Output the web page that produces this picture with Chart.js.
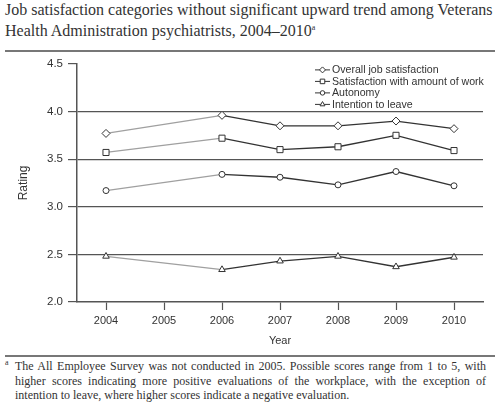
<!DOCTYPE html>
<html lang="en">
<head>
    <meta charset="UTF-8">
    <title>Job satisfaction categories, VHA psychiatrists</title>
    <script src="https://cdn.jsdelivr.net/npm/chart.js"></script>
    <style>
        body { margin: 0; width: 500px; height: 407px; background: #fff; position: relative; overflow: hidden; }
        #title { position: absolute; left: 5px; top: 1px; width: 494px; font: 16px "Liberation Serif", serif; line-height: 18px; color: #333; }
        .rule { position: absolute; left: 5px; width: 490px; height: 2px; background: #777; }
        #chart-box { position: absolute; left: 0; top: 52px; width: 500px; height: 300px; }
        #note { position: absolute; left: 15px; top: 359px; width: 471px; font: 12px "Liberation Serif", serif; line-height: 14.5px; color: #333; text-align: justify; }
        #note sup { position: absolute; left: -10px; top: -3px; font-size: 8px; }
        sup { font-size: 8px; }
    </style>
</head>
<body>
    <div id="title">Job satisfaction categories without significant upward trend among Veterans Health Administration psychiatrists, 2004&ndash;2010<sup>a</sup></div>
    <div class="rule" style="top: 50px;"></div>

    <div id="chart-box"><canvas id="ratingChart"></canvas></div>

    <div class="rule" style="top: 355px;"></div>
    <div id="note"><sup>a</sup>The All Employee Survey was not conducted in 2005. Possible scores range from 1 to 5, with higher scores indicating more positive evaluations of the workplace, with the exception of intention to leave, where higher scores indicate a negative evaluation.</div>

    <script>
        // survey years (no survey in 2005)
        const years = [2004, 2006, 2007, 2008, 2009, 2010];
        const tickYears = [2004, 2005, 2006, 2007, 2008, 2009, 2010];
        const seriesNames = ['Overall job satisfaction', 'Satisfaction with amount of work', 'Autonomy', 'Intention to leave'];
        const overall = [3.77, 3.96, 3.85, 3.85, 3.90, 3.82];
        const amountOfWork = [3.57, 3.72, 3.60, 3.63, 3.75, 3.59];
        const autonomy = [3.17, 3.34, 3.31, 3.23, 3.37, 3.22];
        const intentionToLeave = [2.48, 2.34, 2.43, 2.48, 2.37, 2.47];
        const pointStyles = ['rectRot', 'rect', 'circle', 'triangle'];
        const pointSizes = [4, 4.3, 3, 3.8];

        const ink = '#333';
        const lightInk = '#a0a0a0';
        const axisGray = '#555';
        const fontFamily = '"Liberation Sans", Arial, sans-serif';

        function makeDataset(label, values, i) {
            return {
                label: label,
                data: years.map((x, k) => ({ x: x, y: values[k] })),
                borderColor: ink,
                borderWidth: 1.3,
                pointStyle: pointStyles[i],
                pointRadius: pointSizes[i],
                pointBackgroundColor: '#fff',
                pointBorderColor: ink,
                pointBorderWidth: 1,
                segment: {
                    // the 2004 -> 2006 gap year is drawn lighter
                    borderColor: c => c.p0.parsed.x === 2004 ? lightInk : ink
                }
            };
        }

        // legend drawn inside the plot, top right
        const cornerLegend = {
            id: 'cornerLegend',
            afterDraw(chart) {
                const ctx = chart.ctx;
                const x0 = chart.chartArea.right - 168;
                ctx.save();
                ctx.font = '10.6px ' + fontFamily;
                ctx.textBaseline = 'middle';
                chart.data.datasets.forEach((ds, i) => {
                    const y = chart.chartArea.top + 6 + i * 11.5;
                    ctx.strokeStyle = ink;
                    ctx.lineWidth = 1;
                    ctx.beginPath();
                    ctx.moveTo(x0, y);
                    ctx.lineTo(x0 + 15, y);
                    ctx.stroke();
                    ctx.fillStyle = '#fff';
                    Chart.helpers.drawPoint(ctx, {
                        pointStyle: ds.pointStyle,
                        radius: ds.pointRadius * 0.75,
                        borderWidth: 1
                    }, x0 + 7.5, y);
                    ctx.fillStyle = ink;
                    ctx.fillText(ds.label, x0 + 17, y + 0.5);
                });
                ctx.restore();
            }
        };

        const ratingChart = new Chart(document.getElementById('ratingChart').getContext('2d'), {
            type: 'line',
            data: {
                datasets: [
                    makeDataset(seriesNames[0], overall, 0),
                    makeDataset(seriesNames[1], amountOfWork, 1),
                    makeDataset(seriesNames[2], autonomy, 2),
                    makeDataset(seriesNames[3], intentionToLeave, 3)
                ]
            },
            options: {
                responsive: true,
                maintainAspectRatio: false,
                animation: false,
                layout: { padding: { top: 8, right: 17, left: 0, bottom: 0 } },
                plugins: {
                    legend: { display: false },
                    tooltip: { enabled: false }
                },
                scales: {
                    x: {
                        type: 'linear',
                        min: 2003.5,
                        max: 2010.5,
                        afterBuildTicks: s => { s.ticks = tickYears.map(v => ({ value: v })); },
                        afterFit: s => { s.height = 50; },
                        ticks: {
                            color: ink,
                            padding: 4,
                            maxRotation: 0,
                            font: { family: fontFamily, size: 11 },
                            callback: v => String(v)
                        },
                        grid: { drawOnChartArea: false, drawTicks: true, tickLength: 8, tickColor: axisGray, tickWidth: 1.2 },
                        border: { display: true, color: axisGray, width: 1.5 },
                        title: {
                            display: true,
                            text: 'Year',
                            color: ink,
                            font: { family: fontFamily, size: 11 },
                            padding: { top: 4, bottom: 4 }
                        }
                    },
                    y: {
                        min: 2,
                        max: 4.5,
                        afterFit: s => { s.width = 77; },
                        ticks: {
                            stepSize: 0.5,
                            color: ink,
                            padding: 5,
                            font: { family: fontFamily, size: 11.5 },
                            callback: v => Number(v).toFixed(1)
                        },
                        grid: {
                            // reference lines only at 2.5 to 4.0
                            color: c => (c.tick && c.tick.value > 2 && c.tick.value < 4.5) ? axisGray : 'rgba(0,0,0,0)',
                            lineWidth: 1.2,
                            drawTicks: true,
                            tickLength: 9,
                            tickColor: axisGray,
                            tickWidth: 1.2
                        },
                        border: { display: true, color: axisGray, width: 1.5 },
                        title: {
                            display: true,
                            text: 'Rating',
                            color: ink,
                            font: { family: fontFamily, size: 12 },
                            padding: { top: 16, bottom: 0 }
                        }
                    }
                }
            },
            plugins: [cornerLegend]
        });
    </script>
</body>
</html>
